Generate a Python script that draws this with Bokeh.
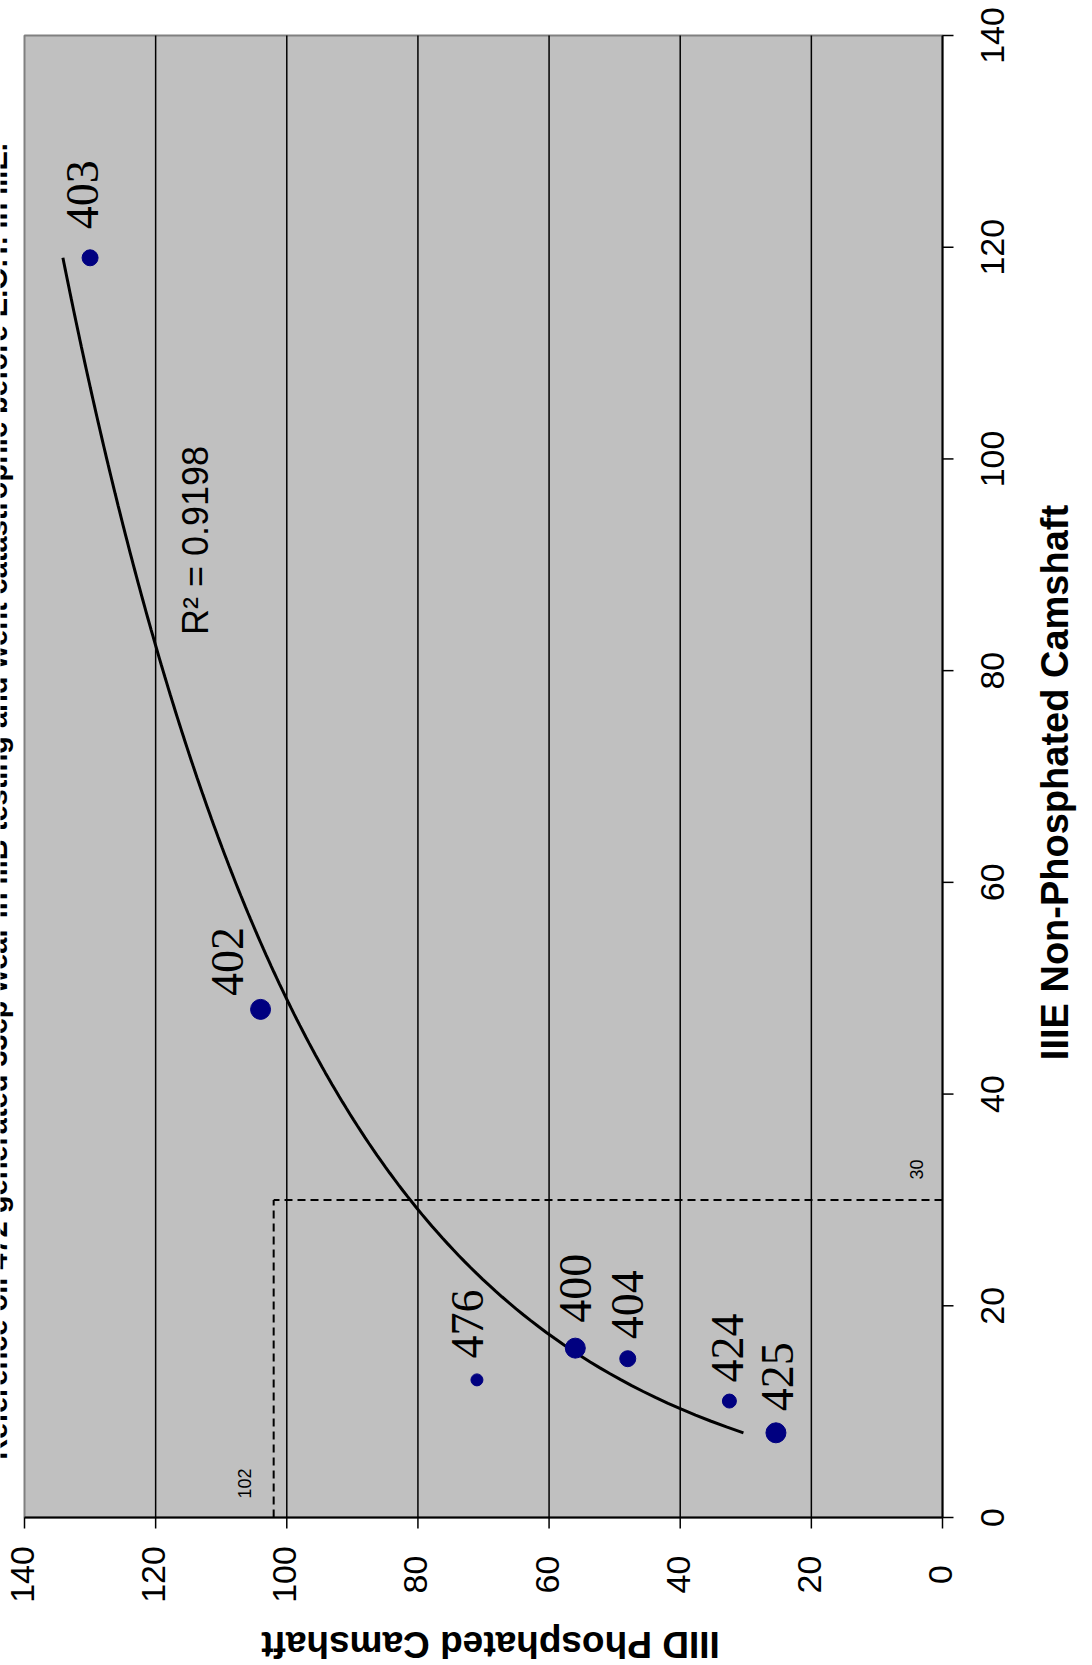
import math
import numpy as np
from bokeh.plotting import figure
from bokeh.models import Range1d, Label
from bokeh.embed import file_html
from bokeh.resources import INLINE

# One point per engine run: IIIE (non-phosphated) wear vs IIID (phosphated) wear
run_ids = ["403", "402", "476", "400", "404", "424", "425"]
iiie_wear = [119, 48, 13, 16, 15, 11, 8]
iiid_wear = [130, 104, 71, 56, 48, 32.5, 25.4]

axis_ticks = [0, 20, 40, 60, 80, 100, 120, 140]
iiid_limit = 102
iiie_limit = 30
r_squared = 0.9198

title_text = ("Reference oil 472 generated 33cp wear in IIIB testing and went "
              "catastrophic before E.O.T. in IIIE.")
iiie_title = "IIIE Non-Phosphated Camshaft"
iiid_title = "IIID Phosphated Camshaft"

# The sheet is turned a quarter turn: IIID runs right-to-left, IIIE runs upward.
# The whole page is one frame; the plot box occupies pixels LEFT..RIGHT, TOP..BOTTOM.
W, H = 1092, 1665
LEFT, RIGHT, TOP, BOTTOM = 24, 942, 35, 1517
LO, HI = axis_ticks[0], axis_ticks[-1]
SX = (RIGHT - LEFT) / float(HI - LO)
SY = (BOTTOM - TOP) / float(HI - LO)


def at_x(px):
    return HI - (px - LEFT) / SX


def at_y(py):
    return (BOTTOM - py) / SY


SANS = "Liberation Sans"
SERIF = "Liberation Serif"
TICK = 11

p = figure(width=W, height=H, title=None,
           x_range=Range1d(at_x(0), at_x(W)), y_range=Range1d(at_y(H), at_y(0)),
           x_axis_location=None, y_axis_location=None,
           min_border=0, toolbar_location=None, output_backend="svg")
p.background_fill_color = "white"
p.border_fill_color = "white"
p.outline_line_color = None
p.grid.visible = False

# grey plot area
p.quad(left=HI, right=LO, bottom=LO, top=HI, fill_color="#C0C0C0",
       line_color="#808080", line_width=2)

# IIID gridlines (vertical on the page)
inner = axis_ticks[1:-1]
p.segment(x0=inner, y0=[LO] * len(inner), x1=inner, y1=[HI] * len(inner),
          line_color="black", line_width=1.5)

# guide lines at the 30 / 102 limits
p.line([iiid_limit, iiid_limit], [LO, iiie_limit], line_color="black",
       line_width=2, line_dash="8 5")
p.line([LO, iiid_limit], [iiie_limit, iiie_limit], line_color="black",
       line_width=2, line_dash="8 5")

# logarithmic trend line fitted to the runs
k, c = np.polyfit(np.log(iiie_wear), iiid_wear, 1)
xs = np.linspace(min(iiie_wear), max(iiie_wear), 200)
p.line(k * np.log(xs) + c, xs, line_color="black", line_width=3)

marker_px = [16, 20, 12, 20, 16, 14, 20]
p.scatter(iiid_wear, iiie_wear, size=marker_px, marker="circle",
          fill_color="#000080", line_color="#000080")

# axes: IIIE along the right edge, IIID along the bottom edge
n = len(axis_ticks)
p.segment(x0=[LO], y0=[LO], x1=[LO], y1=[HI], line_color="black", line_width=2)
p.segment(x0=[HI], y0=[LO], x1=[LO], y1=[LO], line_color="black", line_width=2)
p.segment(x0=[LO] * n, y0=axis_ticks, x1=[LO - TICK / SX] * n, y1=axis_ticks,
          line_color="black", line_width=1.5)
p.segment(x0=axis_ticks, y0=[LO] * n, x1=axis_ticks, y1=[LO - TICK / SY] * n,
          line_color="black", line_width=1.5)


def vtext(x, y, text, size, font=SANS, style="normal", angle=math.pi / 2):
    p.add_layout(Label(x=x, y=y, text=text, angle=angle, text_align="center",
                       text_baseline="alphabetic", text_font=font,
                       text_font_style=style, text_font_size=size,
                       text_color="black"))


for t in axis_ticks:
    vtext(at_x(992), t, str(t), "34px")
    vtext(t + 2 / SX, at_y(1574), str(t), "34px")

# run-number labels, offset from each point in screen pixels
label_off = [(-8, -63), (-33, -48), (-9, -56), (0, -60), (0, -54), (-2, -53), (2, -56)]
for rid, xv, yv, (ox, oy) in zip(run_ids, iiid_wear, iiie_wear, label_off):
    vtext(xv - ox / SX, yv - oy / SY, rid, "46px", font=SERIF)

vtext(at_x(195), at_y(540), f"R\u00b2 = {r_squared}", "36px")
vtext(at_x(244), at_y(1483), str(iiid_limit), "18px")
vtext(at_x(916), at_y(1169), str(iiie_limit), "18px")

# titles
vtext(at_x(-4), at_y(801), title_text, "29px", style="bold")
vtext(at_x(1054), at_y(782), iiie_title, "38px", style="bold")
vtext(at_x(490), at_y(1644), iiid_title, "37px", style="bold", angle=math.pi)

open("out.html", "w").write(file_html(p, INLINE))
